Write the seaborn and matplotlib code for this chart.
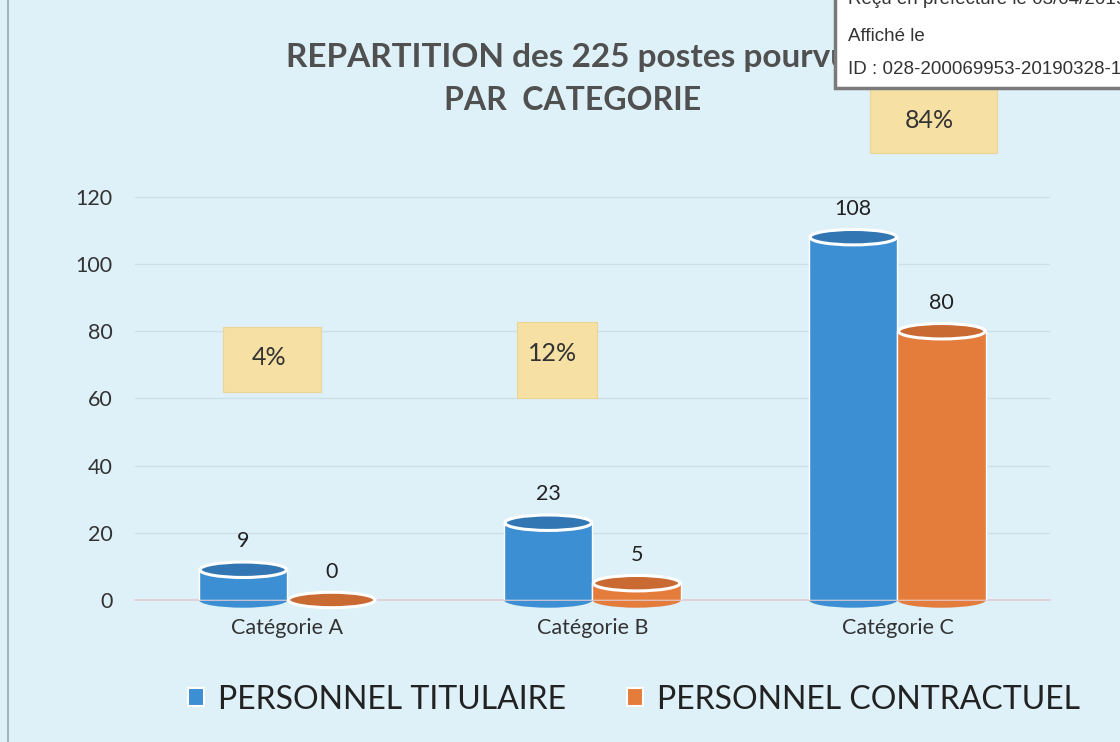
import matplotlib
matplotlib.use("Agg")
import matplotlib.pyplot as plt
from matplotlib.patches import Ellipse, Rectangle, Patch
import seaborn as sns
import pandas as pd

# ==== Data ===================================================================
categories = ["Catégorie A", "Catégorie B", "Catégorie C"]
titulaire = [9, 23, 108]
contractuel = [0, 5, 80]
series_names = ["PERSONNEL TITULAIRE", "PERSONNEL CONTRACTUEL"]
percent_labels = ["4%", "12%", "84%"]
y_ticks = [0, 20, 40, 60, 80, 100, 120]
title_lines = ["REPARTITION des 225 postes pourvus", "PAR  CATEGORIE"]
stamp_lines = ["Reçu en préfecture le 03/04/2019", "Affiché le",
               "ID : 028-200069953-20190328-19"]

df = pd.DataFrame({
    "categorie": categories * 2,
    "valeur": titulaire + contractuel,
    "serie": [series_names[0]] * 3 + [series_names[1]] * 3,
})

# ==== Settings ===============================================================
sns.set_style("white")
plt.rcParams["font.family"] = ["Lato", "DejaVu Sans"]
bg = "#def0f8"
blue, orange = "#3d8fd3", "#e47c3c"
top_colors = ["#3277b4", "#c96a33"]
palette = {series_names[0]: blue, series_names[1]: orange}

# ==== Figure =================================================================
fig = plt.figure(figsize=(11.2, 7.42), dpi=100, facecolor=bg)
ax = fig.add_axes([0.1205, 0.1914, 0.817, 0.5795])
ax.set_facecolor(bg)

sns.barplot(data=df, x="categorie", y="valeur", hue="serie",
            hue_order=series_names, palette=palette, width=0.58,
            gap=0, saturation=1, legend=False, ax=ax, zorder=3)

# ==== Cylinder tops / value labels ==========================================
for k, cont in enumerate(ax.containers):
    for bar in cont:
        x0 = bar.get_x()
        w = bar.get_width()
        h = bar.get_height()
        cx = x0 + w / 2
        # rounded bottom
        ax.add_patch(Ellipse((cx, 0), w, 4.6, facecolor=bar.get_facecolor(),
                             edgecolor="none", zorder=2, clip_on=False))
        # top
        ax.add_patch(Ellipse((cx, h), w * 0.98, 4.6,
                             facecolor=top_colors[k], edgecolor="white",
                             lw=2.2, zorder=4, clip_on=False))
        ax.text(cx, h + 5.5, f"{h:.0f}", ha="center", va="bottom",
                fontsize=15.5, color="#222222", zorder=5)

# ==== Percentage boxes =======================================================
# (x0, x1, y0, y1) of each box and text anchor, data coordinates
box_rects = [(-0.21, 0.11, 62, 81.2), (0.752, 1.015, 60, 82.7),
             (1.91, 2.326, 133, 152.4)]
text_pos = [(-0.06, 72.3), (0.87, 73.5), (2.105, 142.8)]
for lab, (x0, x1, y0, y1), (tx, ty) in zip(percent_labels, box_rects,
                                           text_pos):
    ax.add_patch(Rectangle((x0, y0), x1 - x0, y1 - y0, facecolor="#f6e0a4",
                           edgecolor="#ecd495", lw=0.8, zorder=5,
                           clip_on=False))
    ax.text(tx, ty, lab, ha="center", va="center", fontsize=18,
            color="#333333", zorder=6, clip_on=False)

# ==== Axes ===================================================================
ax.set_xlim(-0.5, 2.5)
ax.set_ylim(0, 128)
ax.set_yticks(y_ticks)
ax.set_yticklabels([str(t) for t in y_ticks])
ax.tick_params(axis="y", length=0, labelsize=15.5, labelcolor="#333333",
               pad=16)
ax.tick_params(axis="x", length=0, labelsize=15.5, labelcolor="#333333",
               pad=13)
ax.set_xticks([0.5, 1.5], minor=True)
ax.tick_params(axis="x", which="minor", length=5, color="#cfc6c8",
               direction="out")
ax.set_xlabel("")
ax.set_ylabel("")
ax.grid(axis="y", color="#cadfe8", lw=0.9, zorder=0)
for s in ["top", "right", "left"]:
    ax.spines[s].set_visible(False)
ax.spines["bottom"].set_color("#e4cbd0")
ax.spines["bottom"].set_linewidth(1.2)

# ==== Title ==================================================================
fig.text(0.513, 0.923, title_lines[0], ha="center", va="center",
         fontsize=24, fontweight="bold", color="#505050", zorder=1)
fig.text(0.511, 0.864, title_lines[1], ha="center", va="center",
         fontsize=23, fontweight="bold", color="#505050", zorder=1)

# ==== Stamp ==================================================================
fig.patches.append(Rectangle((0.7455, 0.881), 0.3, 0.2,
                             transform=fig.transFigure, facecolor="white",
                             edgecolor="#7a7a7a", lw=2.5, zorder=10))
for txt, yy in zip(stamp_lines, [1.0, 0.951, 0.906]):
    fig.text(0.757, yy, txt, ha="left", va="center", fontsize=13.5,
             color="#333333", family=["Liberation Sans", "DejaVu Sans"],
             zorder=11)

# left scan edge
fig.add_artist(plt.Line2D([0.007, 0.007], [0, 1], color="#9aa8b0",
                          lw=1.2, transform=fig.transFigure))

# ==== Legend =================================================================
handles = [Patch(facecolor=palette[n], edgecolor="white", lw=1.5)
           for n in series_names]
fig.legend(handles, series_names, loc="center", ncol=2,
           bbox_to_anchor=(0.566, 0.057), frameon=False, fontsize=23,
           handlelength=0.5, handleheight=0.5, handletextpad=0.45,
           columnspacing=1.9, labelcolor="#222222")

fig.savefig("out.png", dpi=100, facecolor=bg)
